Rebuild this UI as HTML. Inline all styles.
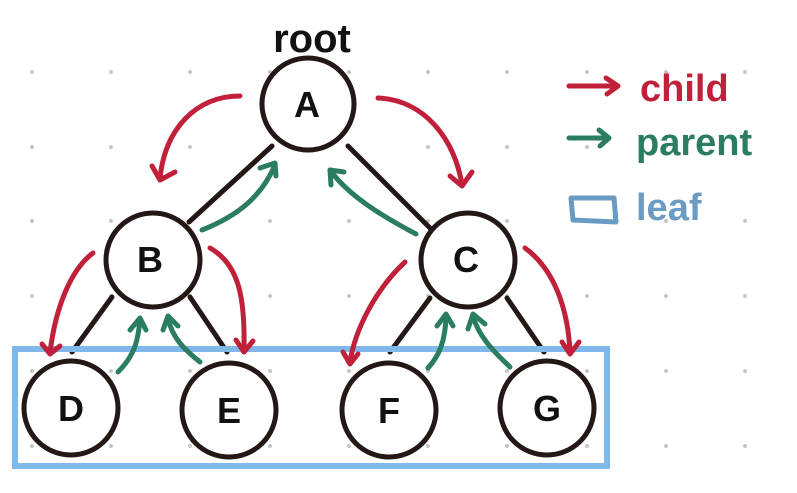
<!DOCTYPE html>
<html><head><meta charset="utf-8"><style>
html,body{margin:0;padding:0;background:#fff;width:797px;height:493px;overflow:hidden}
svg{display:block}
text{font-family:"Liberation Sans",sans-serif;font-weight:bold}
</style></head><body>
<svg width="797" height="493" viewBox="0 0 797 493" xmlns="http://www.w3.org/2000/svg">
<g fill="#c6c6c6">
<circle cx="32" cy="72" r="2"/><circle cx="111" cy="72" r="2"/><circle cx="190" cy="72" r="2"/><circle cx="270" cy="72" r="2"/><circle cx="349" cy="72" r="2"/><circle cx="428" cy="72" r="2"/><circle cx="507" cy="72" r="2"/><circle cx="587" cy="72" r="2"/><circle cx="666" cy="72" r="2"/><circle cx="745" cy="72" r="2"/>
<circle cx="32" cy="147" r="2"/><circle cx="111" cy="147" r="2"/><circle cx="190" cy="147" r="2"/><circle cx="270" cy="147" r="2"/><circle cx="349" cy="147" r="2"/><circle cx="428" cy="147" r="2"/><circle cx="507" cy="147" r="2"/><circle cx="587" cy="147" r="2"/><circle cx="666" cy="147" r="2"/><circle cx="745" cy="147" r="2"/>
<circle cx="32" cy="221" r="2"/><circle cx="111" cy="221" r="2"/><circle cx="190" cy="221" r="2"/><circle cx="270" cy="221" r="2"/><circle cx="349" cy="221" r="2"/><circle cx="428" cy="221" r="2"/><circle cx="507" cy="221" r="2"/><circle cx="587" cy="221" r="2"/><circle cx="666" cy="221" r="2"/><circle cx="745" cy="221" r="2"/>
<circle cx="32" cy="296" r="2"/><circle cx="111" cy="296" r="2"/><circle cx="190" cy="296" r="2"/><circle cx="270" cy="296" r="2"/><circle cx="349" cy="296" r="2"/><circle cx="428" cy="296" r="2"/><circle cx="507" cy="296" r="2"/><circle cx="587" cy="296" r="2"/><circle cx="666" cy="296" r="2"/><circle cx="745" cy="296" r="2"/>
<circle cx="32" cy="371" r="2"/><circle cx="111" cy="371" r="2"/><circle cx="190" cy="371" r="2"/><circle cx="270" cy="371" r="2"/><circle cx="349" cy="371" r="2"/><circle cx="428" cy="371" r="2"/><circle cx="507" cy="371" r="2"/><circle cx="587" cy="371" r="2"/><circle cx="666" cy="371" r="2"/><circle cx="745" cy="371" r="2"/>
<circle cx="32" cy="446" r="2"/><circle cx="111" cy="446" r="2"/><circle cx="190" cy="446" r="2"/><circle cx="270" cy="446" r="2"/><circle cx="349" cy="446" r="2"/><circle cx="428" cy="446" r="2"/><circle cx="507" cy="446" r="2"/><circle cx="587" cy="446" r="2"/><circle cx="666" cy="446" r="2"/><circle cx="745" cy="446" r="2"/>
</g>

<g stroke="#231815" stroke-width="5" stroke-linecap="round" fill="none">
<line x1="272" y1="146" x2="189" y2="222"/>
<line x1="348" y1="146" x2="430" y2="228"/>
<line x1="112" y1="297" x2="72" y2="352"/>
<line x1="190" y1="297" x2="227" y2="352"/>
<line x1="430" y1="298" x2="390" y2="352"/>
<line x1="507" y1="298" x2="544" y2="352"/>
</g>

<rect x="15" y="349" width="592" height="117" fill="none" stroke="#80b8ea" stroke-width="6"/>

<g stroke="#231815" stroke-width="5" fill="#fff">
<circle cx="308" cy="104" r="46"/>
<circle cx="153" cy="260" r="47"/>
<circle cx="468" cy="260" r="47"/>
<circle cx="71" cy="408" r="47"/>
<circle cx="229" cy="410" r="47"/>
<circle cx="389" cy="410" r="47"/>
<circle cx="547" cy="408" r="47"/>
</g>
<g font-size="36" fill="#111" text-anchor="middle">
<text x="307" y="117">A</text>
<text x="150" y="272">B</text>
<text x="466" y="272">C</text>
<text x="71" y="421">D</text>
<text x="229" y="423">E</text>
<text x="389" y="423">F</text>
<text x="547" y="421">G</text>
</g>
<text x="312" y="52" font-size="40" fill="#111" text-anchor="middle">root</text>

<g stroke="#c0203a" stroke-width="5" stroke-linecap="round" stroke-linejoin="round" fill="none">
<path d="M240 96 C195 96 165 130 160 178"/><path d="M152 166 L160 180 L175 172"/>
<path d="M378 98 C425 100 455 140 462 185"/><path d="M450 176 L462 186 L472 172"/>
<path d="M93 253 C70 270 55 310 50 353"/><path d="M42 344 L50 354 L60 346"/>
<path d="M210 248 C240 265 245 300 244 350"/><path d="M236 340 L244 352 L253 341"/>
<path d="M405 262 C375 290 355 330 350 362"/><path d="M343 352 L350 364 L358 354"/>
<path d="M525 248 C555 270 568 310 570 352"/><path d="M562 342 L570 354 L579 342"/>
</g>

<g stroke="#2a7d62" stroke-width="5" stroke-linecap="round" stroke-linejoin="round" fill="none">
<path d="M202 230 C240 215 262 195 275 165"/><path d="M260 168 L275 163 L276 176"/>
<path d="M416 234 C380 215 348 195 330 170"/><path d="M331 185 L330 170 L344 172"/>
<path d="M118 372 C135 355 138 340 140 320"/><path d="M130 330 L140 318 L146 330"/>
<path d="M200 362 C185 350 172 338 168 318"/><path d="M163 330 L168 316 L178 326"/>
<path d="M428 368 C440 355 445 340 446 318"/><path d="M437 326 L446 314 L453 326"/>
<path d="M510 367 C492 350 478 335 473 316"/><path d="M468 329 L473 314 L485 324"/>
</g>

<g stroke-width="5" stroke-linecap="round" stroke-linejoin="round" fill="none">
<path d="M569 86 L617 86" stroke="#c0203a"/><path d="M606 78 L618 86 L607 94" stroke="#c0203a"/>
<path d="M569 138 L608 138" stroke="#2a7d62"/><path d="M599 130 L609 138 L600 146" stroke="#2a7d62"/>
<path d="M571 198 L614 198 L616 222 L573 220 Z" stroke="#6a9bc3"/>
</g>
<text x="640" y="101" font-size="38" fill="#c0203a">child</text>
<text x="636" y="155" font-size="38" fill="#2a7d62">parent</text>
<text x="636" y="220" font-size="38" fill="#6a9bc3">leaf</text>
</svg>
</body></html>
